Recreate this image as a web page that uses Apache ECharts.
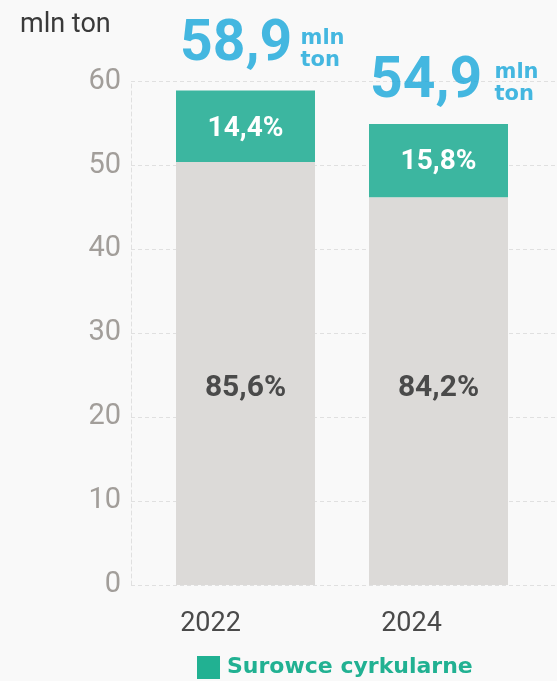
<!DOCTYPE html>
<html>
<head>
<meta charset="utf-8">
<script src="https://cdn.jsdelivr.net/npm/echarts@6/dist/echarts.min.js"></script>
<style>
  html, body { margin: 0; padding: 0; background: #f9f9f9; }
  #chart { width: 557px; height: 681px; }
</style>
</head>
<body>
<div id="chart"></div>
<script>
// ---- data ----
const categories = ['2022', '2024'];
const totals = [58.9, 54.9];
const primaryValues = [50.4, 46.2];
const circularValues = [8.5, 8.7];
const primaryShare = [85.6, 84.2];
const circularShare = [14.4, 15.8];
const yTicks = [0, 10, 20, 30, 40, 50, 60];
const unitLabel = 'mln ton';
const legendName = 'Surowce cyrkularne';
const primaryName = 'Surowce pierwotne';

// ---- layout (not data) ----
const primaryLabelOffsets = [[0, 15], [0, -3]];
const circularLabelOffsets = [[0, 3], [0, 1.5]];
const totalLabelOffsets = [[-65.5, -44.3], [-68.5, -40.9]];
const unitLabelOffsets = [[55, -41.1], [56, -40.4]];
const xLabelStyles = ['l0', 'l1'];

const fmt = v => v.toFixed(1).replace('.', ',');

const chart = echarts.init(document.getElementById('chart'), null, { renderer: 'canvas' });

const gridTop = 81.3, gridBottom = 96;

const option = {
  backgroundColor: '#f9f9f9',
  animation: false,
  title: {
    text: unitLabel,
    left: 20,
    top: 12,
    padding: 0,
    textStyle: { fontFamily: 'Roboto', fontSize: 27, fontWeight: 'normal', color: '#3a3a3a', lineHeight: 27 }
  },
  legend: {
    data: [legendName],
    left: 197,
    top: 656,
    padding: 0,
    icon: 'rect',
    itemWidth: 23,
    itemHeight: 23,
    itemStyle: { color: '#21b192' },
    textStyle: { fontFamily: 'DejaVu Sans', fontWeight: 'bold', fontSize: 22, color: '#21b192', padding: [0, 0, 0, 2] }
  },
  grid: [
    { left: 131, right: 0, top: gridTop, bottom: gridBottom },
    { left: 149, right: 22, top: gridTop, bottom: gridBottom }
  ],
  xAxis: [
    { gridIndex: 0, type: 'category', data: categories, show: false },
    {
      gridIndex: 1, type: 'category', data: categories,
      axisLine: { show: false }, axisTick: { show: false },
      axisLabel: {
        margin: 26,
        formatter: (v, i) => '{' + xLabelStyles[i] + '|' + v + '}',
        rich: {
          l0: { fontFamily: 'Roboto', fontSize: 27, lineHeight: 27, color: '#4a4a4a', padding: [0, 70, 0, 0] },
          l1: { fontFamily: 'Roboto', fontSize: 27, lineHeight: 27, color: '#4a4a4a', padding: [0, 54, 0, 0] }
        }
      }
    }
  ],
  yAxis: [
    {
      gridIndex: 0, type: 'value', min: yTicks[0], max: yTicks[yTicks.length - 1], interval: yTicks[1] - yTicks[0],
      axisLine: { show: true, lineStyle: { color: '#e0e0e0', type: [4, 3], width: 1 } },
      axisTick: { show: false },
      splitLine: { show: true, lineStyle: { color: '#e0e0e0', type: [4, 3], width: 1 } },
      axisLabel: { margin: 10, fontFamily: 'Roboto', fontSize: 29, color: '#a29e9a' }
    },
    {
      gridIndex: 1, type: 'value', min: yTicks[0], max: yTicks[yTicks.length - 1], interval: yTicks[1] - yTicks[0],
      show: false
    }
  ],
  series: [
    {
      name: primaryName, type: 'bar', stack: 'total', xAxisIndex: 1, yAxisIndex: 1,
      barWidth: 139,
      itemStyle: { color: '#dcdad8' },
      data: primaryValues.map((v, i) => ({ value: v, label: { offset: primaryLabelOffsets[i] } })),
      label: {
        show: true, position: 'inside',
        formatter: p => fmt(primaryShare[p.dataIndex]) + '%',
        fontFamily: 'Roboto', fontWeight: 'bold', fontSize: 30, color: '#4a4a4a'
      }
    },
    {
      name: legendName, type: 'bar', stack: 'total', xAxisIndex: 1, yAxisIndex: 1,
      barWidth: 139,
      itemStyle: { color: '#3cb6a0' },
      data: circularValues.map((v, i) => ({ value: v, label: { offset: circularLabelOffsets[i] } })),
      label: {
        show: true, position: 'inside',
        formatter: p => fmt(circularShare[p.dataIndex]) + '%',
        fontFamily: 'Roboto', fontWeight: 'bold', fontSize: 28, color: '#ffffff'
      }
    },
    {
      name: 'total', type: 'scatter', xAxisIndex: 1, yAxisIndex: 1,
      symbolSize: 0, itemStyle: { color: 'transparent' }, silent: true,
      data: totals.map((v, i) => ({ value: v, label: { offset: totalLabelOffsets[i] } })),
      label: {
        show: true, position: 'inside', align: 'left', verticalAlign: 'middle',
        formatter: p => fmt(totals[p.dataIndex]),
        fontFamily: 'Roboto', fontWeight: 'bold', fontSize: 57, lineHeight: 57, color: '#16a6da'
      }
    },
    {
      name: 'unit', type: 'scatter', xAxisIndex: 1, yAxisIndex: 1,
      symbolSize: 0, itemStyle: { color: 'transparent' }, silent: true,
      data: totals.map((v, i) => ({ value: v, label: { offset: unitLabelOffsets[i] } })),
      label: {
        show: true, position: 'inside', align: 'left', verticalAlign: 'middle',
        formatter: () => unitLabel.replace(' ', '\n'),
        fontFamily: 'DejaVu Sans', fontWeight: 'bold', fontSize: 21, lineHeight: 22, color: '#16a6da'
      }
    }
  ]
};

chart.setOption(option);
</script>
</body>
</html>
